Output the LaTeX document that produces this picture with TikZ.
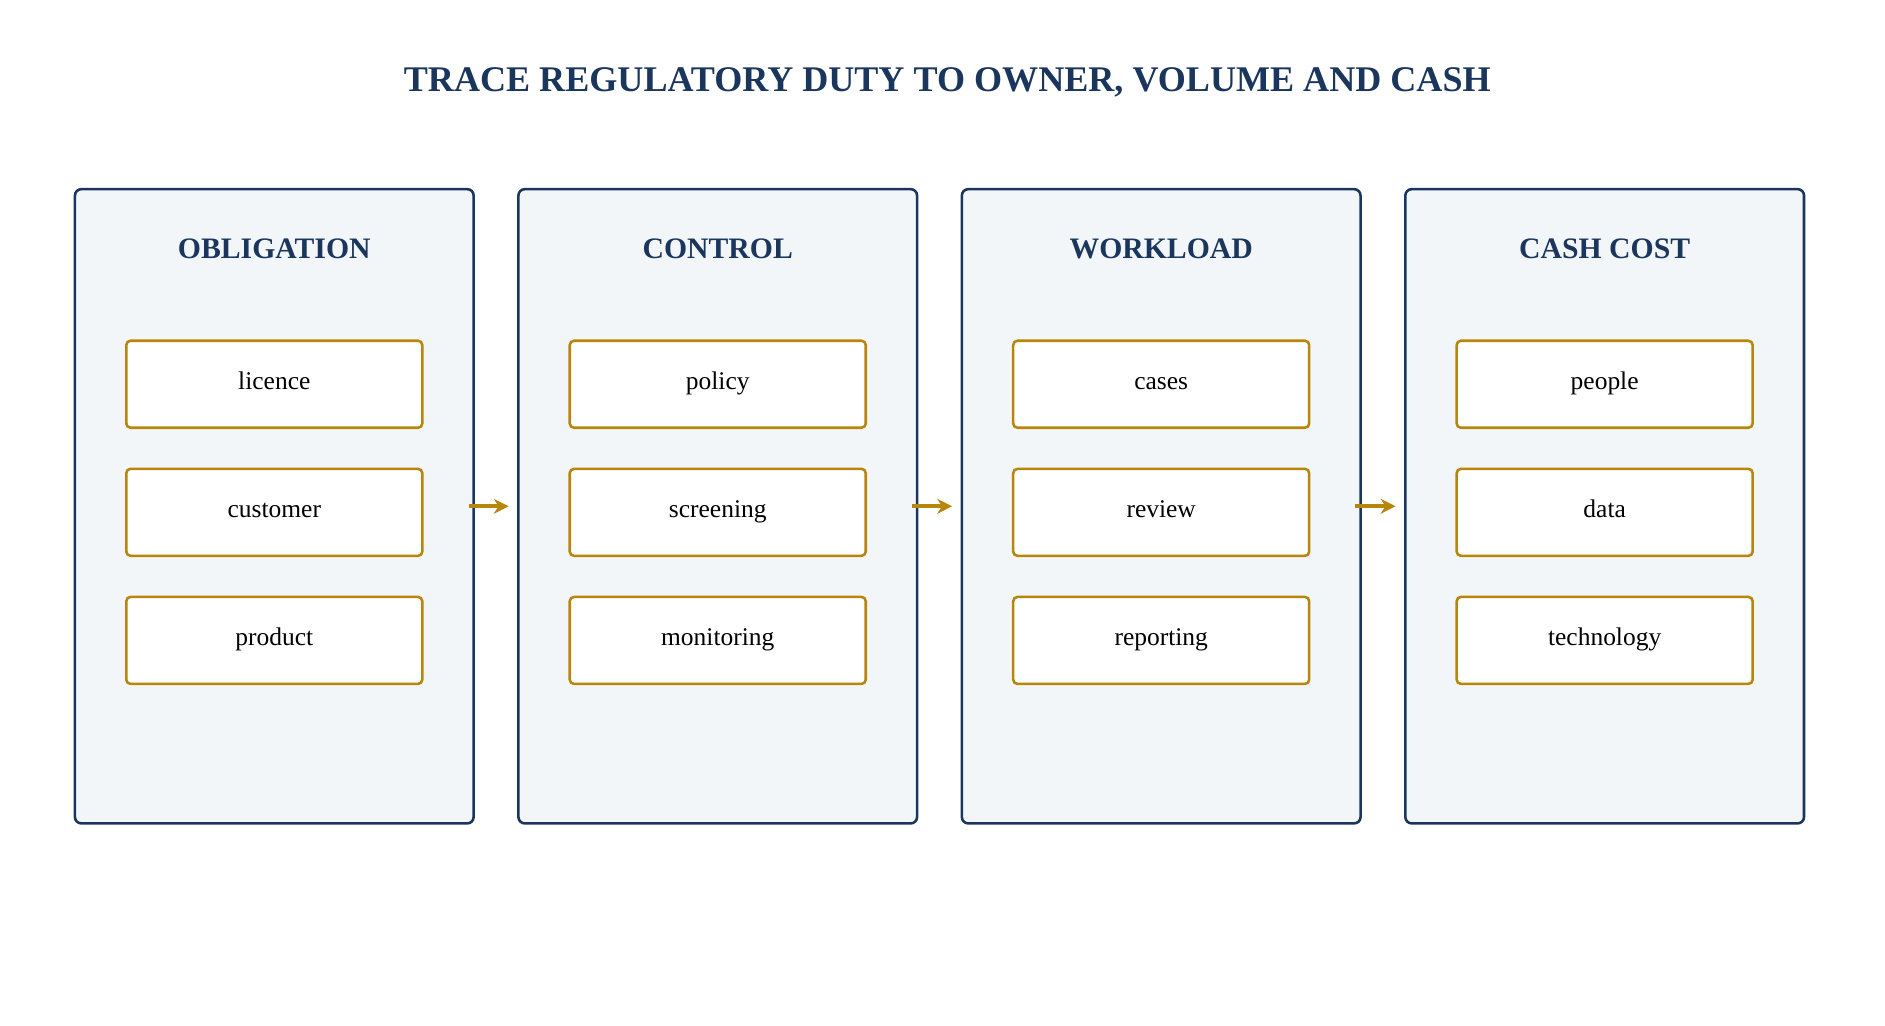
\documentclass[tikz,border=0pt]{standalone}
\usepackage{fontspec}
\setmainfont{Liberation Serif}
\usetikzlibrary{positioning,arrows.meta}
\definecolor{navy}{HTML}{1B365D}
\definecolor{panelfill}{HTML}{F3F6F9}
\definecolor{gold}{HTML}{B8860B}
\begin{document}
\begin{tikzpicture}[
        x=0.02cm, y=0.02cm,
        panel/.style={rectangle, draw=navy, fill=panelfill, line width=1.2pt, rounded corners=3pt, minimum width=6.6cm, minimum height=10.5cm},
        item/.style={rectangle, draw=gold, fill=white, line width=1.2pt, rounded corners=2pt, minimum width=4.9cm, minimum height=1.44cm, text height=1.5ex, text depth=.4ex, font=\fontsize{12}{14}\selectfont},
        heading/.style={font=\bfseries\fontsize{14}{17}\selectfont, text=navy},
        arrow/.style={-{Stealth[length=7pt,width=7pt]}, draw=gold, line width=2pt, shorten <=-3pt, shorten >=4pt}
    ]
        \useasboundingbox (0,0) rectangle (1560,849);
        % Title
        \node[font=\bfseries\fontsize{17}{21}\selectfont, text=navy] (title) at (784,781) {TRACE REGULATORY DUTY TO OWNER, VOLUME AND CASH};
        
        % Panels
        \foreach \i/\name/\head/\a/\b/\c in {0/obligation/OBLIGATION/licence/customer/product,
                                              1/control/CONTROL/policy/screening/monitoring,
                                              2/workload/WORKLOAD/cases/review/reporting,
                                              3/cash/CASH COST/people/data/technology} {
            \node[panel] (\name) at (227+\i*367,430) {};
            \node[heading] (\name-head) at (227+\i*367,643) {\head};
            \node[item] (\name-a) at (227+\i*367,531) {\a};
            \node[item] (\name-b) at (227+\i*367,425) {\b};
            \node[item] (\name-c) at (227+\i*367,319) {\c};
        }
        
        % Arrows
        \draw[arrow] (obligation.east |- obligation-b.west) ++(0,5) coordinate (o1) -- (o1 -| control.west);
        \draw[arrow] (control.east |- control-b.west) ++(0,5) coordinate (o2) -- (o2 -| workload.west);
        \draw[arrow] (workload.east |- workload-b.west) ++(0,5) coordinate (o3) -- (o3 -| cash.west);
    \end{tikzpicture}
\end{document}
